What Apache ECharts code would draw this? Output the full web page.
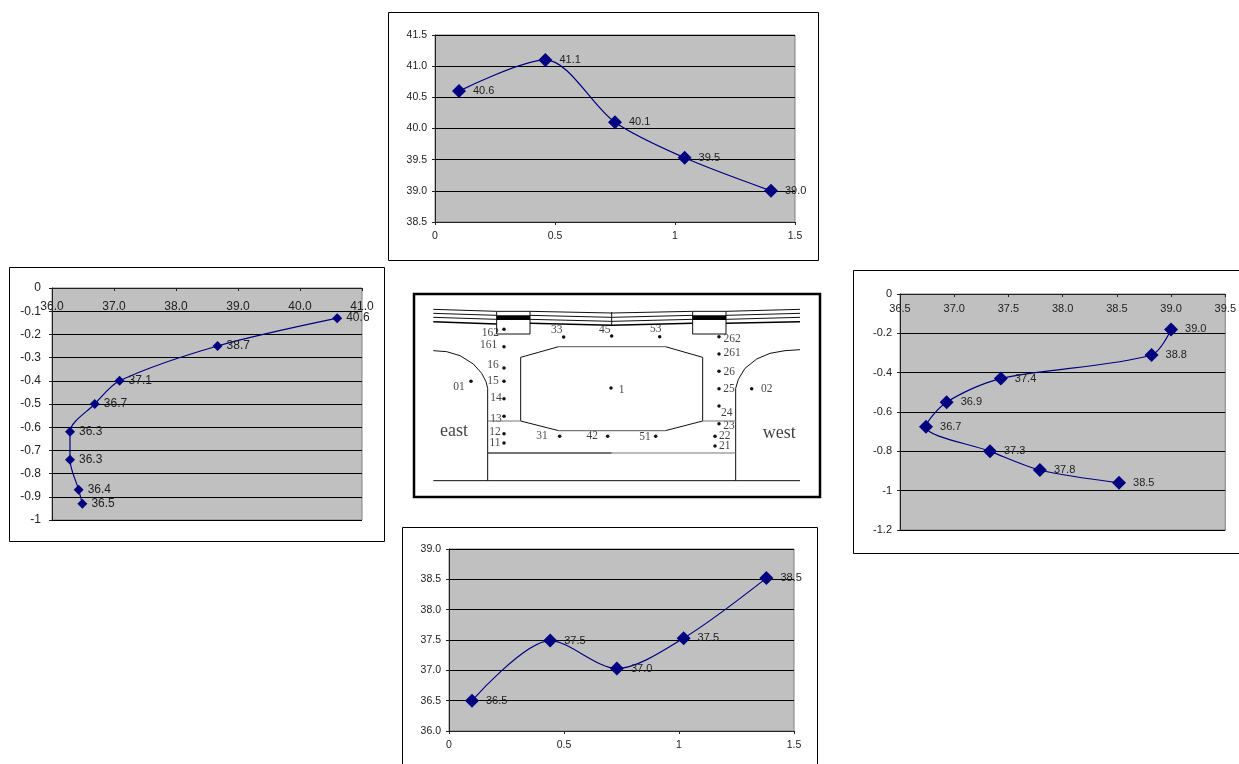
<!DOCTYPE html>
<html>
<head>
<meta charset="utf-8">
<title>temperature profiles</title>
<style>
html,body{margin:0;padding:0;background:#fff;overflow:hidden}
#main{width:1239px;height:764px}
</style>
<script src="https://cdn.jsdelivr.net/npm/echarts@6/dist/echarts.min.js"></script>
</head>
<body>
<div id="main"></div>
<script>
// top chart
var topX=[0.1,0.46,0.75,1.04,1.4];
var topY=[40.6,41.1,40.1,39.53,39.0];
// bottom chart
var bottomX=[0.1,0.44,0.73,1.02,1.38];
var bottomY=[36.5,37.49,37.03,37.53,38.52];
// left chart
var leftX=[40.6,38.67,37.09,36.69,36.29,36.29,36.43,36.49];
var leftY=[-0.13,-0.25,-0.4,-0.5,-0.62,-0.74,-0.87,-0.93];
// right chart
var rightX=[39.0,38.82,37.43,36.93,36.74,37.33,37.79,38.52];
var rightY=[-0.18,-0.31,-0.43,-0.55,-0.675,-0.8,-0.895,-0.96];

// middle drawing, in drawing units (3 units = 1px)
var sensorNames=['162','161','16','15','14','13','12','11','01','33','45','53','31','42','51','1','262','261','26','25','24','23','22','21','02'];
var sensorX=[282,282,282,282,282,282,282,282,183,461,605,749,449,593,737,603,927,927,927,927,927,927,915,915,1025];
var sensorY=[118,170,234,274,326,379,431,459,274,141,138,140,439,439,439,294,140,192,244,296,348,401,439,468,296];
var nameX=[241,236,249,249,258,258,255,255,147,440,584,737,396,547,705,635,966,966,958,957,950,957,944,944,1070];
var nameY=[128,165,225,273,325,387,427,458,292,121,121,118,437,437,440,300,148,190,246,297,368,407,437,468,297];
var sideNames=['east','west'];
var sideX=[132,1108];
var sideY=[425,429];

var thinLines=[
  [[70,58],[260,64]],[[70,70],[260,76]],[[70,82],[260,88]],
  [[360,64],[605,69],[848,64]],[[360,76],[605,82],[848,76]],[[360,88],[605,94],[848,88]],
  [[948,64],[1170,58]],[[948,76],[1170,70]],[[948,88],[1170,82]],
  [[605,66],[605,106]],
  [[260,64],[260,132],[360,132],[360,64],[260,64]],
  [[848,64],[848,132],[948,132],[948,64],[848,64]],
  [[70,182],[110,185],[150,197],[190,222],[215,250],[228,275],[233,295],[233,572]],
  [[977,572],[977,295],[985,268],[1005,235],[1040,207],[1080,190],[1125,182],[1170,179]],
  [[332,393],[332,202],[446,170]],[[766,170],[878,202],[878,393]],
  [[332,393],[446,422]],[[766,422],[878,393]],
  [[70,572],[1170,572]]
];
var lowerRoadLines=[
  [[70,95],[260,102]],[[360,100],[605,106],[848,100]],[[948,100],[1170,95]]
];
var grayLines=[
  [[446,170],[766,170]],[[446,422],[766,422]],
  [[233,393],[332,393]],[[878,393],[977,393]],
  [[605,489],[977,489]]
];
var darkLines=[[[233,489],[605,489]]];
var blockLines=[[[260,83],[360,83]],[[848,83],[948,83]]];

var plots=[
  {name:'top',xs:topX,ys:topY,left:435,top:35,width:360,height:187,xMin:0,xMax:1.5,xStep:0.5,yMin:38.5,yMax:41.5,yStep:0.5,xFixed:false,yFixed:true,atTop:false,font:10.5,labelFont:11,symbol:14,gap:7,margin:8,xMargin:9},
  {name:'bottom',xs:bottomX,ys:bottomY,left:449,top:549,width:345,height:182,xMin:0,xMax:1.5,xStep:0.5,yMin:36,yMax:39,yStep:0.5,xFixed:false,yFixed:true,atTop:false,font:10.5,labelFont:11,symbol:14,gap:7,margin:8,xMargin:9},
  {name:'left',xs:leftX,ys:leftY,left:52,top:288,width:310,height:232,xMin:36,xMax:41,xStep:1,yMin:-1,yMax:0,yStep:0.1,xFixed:true,yFixed:false,atTop:true,font:12,labelFont:12,symbol:10,gap:4,margin:11,xMargin:13},
  {name:'right',xs:rightX,ys:rightY,left:900,top:294,width:327,height:236,xMin:36.5,xMax:39.5,xStep:0.5,yMin:-1.2,yMax:0,yStep:0.2,xFixed:true,yFixed:false,atTop:true,font:11,labelFont:11,symbol:14,gap:7,margin:8,xMargin:9}
];

function fixed1(v){return v.toFixed(1)}
function frame(x,y,w,h,lw){
  return {type:'rect',silent:true,z:1,shape:{x:x,y:y,width:w,height:h},style:{fill:'transparent',stroke:'#000',lineWidth:lw}};
}
function zipXY(xs,ys){
  return xs.map(function(x,i){return [x,ys[i]]});
}

var grids=[],xAxes=[],yAxes=[],series=[];
plots.forEach(function(p,i){
  grids.push({left:p.left,top:p.top,width:p.width,height:p.height,show:true,backgroundColor:'#c0c0c0',borderColor:'#808080',borderWidth:1});
  xAxes.push({
    type:'value',gridIndex:i,min:p.xMin,max:p.xMax,interval:p.xStep,
    position:p.atTop?'top':'bottom',
    axisLine:{show:true,onZero:false,lineStyle:{color:'#222'}},
    axisTick:{show:true,length:3,inside:p.atTop,lineStyle:{color:'#222'}},
    axisLabel:{show:true,inside:p.atTop,margin:p.xMargin,color:'#222',fontFamily:'Liberation Sans',fontSize:p.font,showMinLabel:true,showMaxLabel:true,hideOverlap:false,formatter:p.xFixed?fixed1:null},
    splitLine:{show:false}
  });
  yAxes.push({
    type:'value',gridIndex:i,min:p.yMin,max:p.yMax,interval:p.yStep,
    axisLine:{show:true,onZero:false,lineStyle:{color:'#222'}},
    axisTick:{show:true,length:3,lineStyle:{color:'#222'}},
    axisLabel:{show:true,margin:p.margin,color:'#222',fontFamily:'Liberation Sans',fontSize:p.font,showMinLabel:true,showMaxLabel:true,hideOverlap:false,formatter:p.yFixed?fixed1:null},
    splitLine:{show:true,lineStyle:{color:'#000',width:1,type:'solid'}}
  });
  series.push({
    name:p.name,type:'line',xAxisIndex:i,yAxisIndex:i,smooth:0.3,
    symbol:'diamond',symbolSize:p.symbol,
    lineStyle:{color:'#000080',width:1.2},
    itemStyle:{color:'#000080'},
    label:{show:true,position:'right',distance:p.gap,color:'#222',fontFamily:'Liberation Sans',fontSize:p.labelFont,
      formatter:function(o){return o.value[p.atTop?0:1].toFixed(1)}},
    data:zipXY(p.xs,p.ys),z:5
  });
});

// grid 4: the drawing in the middle, axes hidden
grids.push({left:410,top:290,width:415,height:210,show:false});
xAxes.push({type:'value',gridIndex:4,min:0,max:1245,show:false});
yAxes.push({type:'value',gridIndex:4,min:0,max:630,inverse:true,show:false});

function addLines(list,color,width){
  list.forEach(function(pts){
    series.push({type:'line',xAxisIndex:4,yAxisIndex:4,data:pts,showSymbol:false,symbol:'none',silent:true,lineStyle:{color:color,width:width}});
  });
}
addLines(thinLines,'#111',1);
addLines(lowerRoadLines,'#000',1.5);
addLines(grayLines,'#777',1.2);
addLines(darkLines,'#444',1.5);
addLines(blockLines,'#000',4.7);

series.push({
  type:'scatter',xAxisIndex:4,yAxisIndex:4,symbol:'circle',symbolSize:3.5,silent:true,
  itemStyle:{color:'#111',opacity:1},data:zipXY(sensorX,sensorY)
});
function textLayer(names,xs,ys,size){
  series.push({
    type:'scatter',xAxisIndex:4,yAxisIndex:4,symbolSize:0,silent:true,
    label:{show:true,position:'inside',color:'#111',fontFamily:'Liberation Serif',fontSize:size,
      formatter:function(o){return names[o.dataIndex]}},
    labelLayout:{hideOverlap:false},
    data:zipXY(xs,ys)
  });
}
textLayer(sensorNames,nameX,nameY,11.5);
textLayer(sideNames,sideX,sideY,18);

var chart=echarts.init(document.getElementById('main'),null,{renderer:'canvas'});
chart.setOption({
  animation:false,
  backgroundColor:'#fff',
  grid:grids,
  xAxis:xAxes,
  yAxis:yAxes,
  series:series,
  graphic:[
    frame(388.5,12.5,430,248,1),
    frame(9.5,267.5,375,274,1),
    frame(853.5,270.5,400,283,1),
    frame(402.5,527.5,415,260,1),
    frame(414,294,406,203,2.5)
  ]
});
</script>
</body>
</html>
